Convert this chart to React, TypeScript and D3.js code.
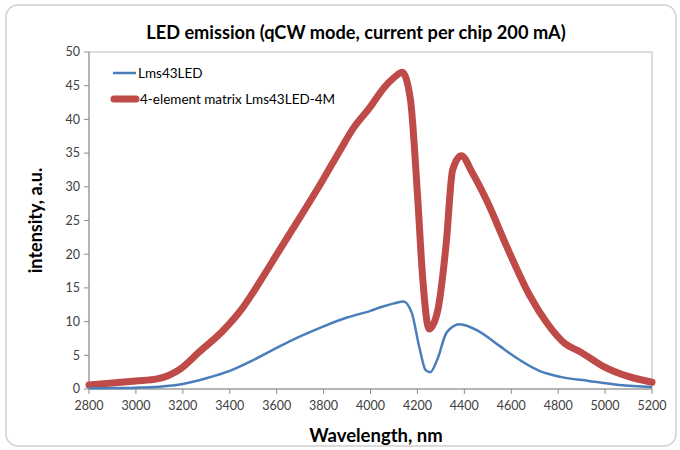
import React from 'react';
import * as d3 from 'd3';

// wavelength (nm) / intensity (a.u.)
const singleWl = [2800, 2900, 3000, 3100, 3200, 3300, 3400, 3500, 3600, 3700, 3800, 3900, 4000, 4050, 4100, 4140, 4175, 4210, 4235, 4255, 4285, 4325, 4380, 4460, 4550, 4610, 4720, 4810, 4930, 5060, 5200];
const singleVal = [0.1, 0.15, 0.2, 0.35, 0.75, 1.6, 2.7, 4.3, 6.1, 7.8, 9.3, 10.6, 11.6, 12.2, 12.7, 13.0, 11.4, 5.9, 2.8, 2.5, 4.4, 8.4, 9.6, 8.6, 6.4, 4.9, 2.7, 1.8, 1.2, 0.6, 0.3];

const matrixWl = [2800, 2900, 3000, 3090, 3190, 3270, 3370, 3450, 3530, 3610, 3700, 3800, 3870, 3925, 4000, 4055, 4100, 4135, 4170, 4200, 4222, 4250, 4285, 4323, 4350, 4387, 4435, 4495, 4580, 4680, 4750, 4830, 4895, 4990, 5095, 5200];
const matrixVal = [0.6, 0.9, 1.2, 1.5, 3.0, 5.5, 8.6, 11.8, 16.0, 20.5, 25.5, 31.2, 35.4, 38.6, 41.9, 44.6, 46.2, 47.0, 43.0, 29.0, 16.7, 8.9, 11.4, 21.7, 32.5, 34.6, 32.0, 28.0, 21.2, 13.8, 9.9, 6.7, 5.5, 3.4, 1.9, 1.0];

const xTicks = d3.range(2800, 5201, 200);
const yTicks = d3.range(0, 51, 5);

const title = 'LED emission (qCW mode, current per chip 200 mA)';
const xLabel = 'Wavelength, nm';
const yLabel = 'intensity, a.u.';
const seriesNames = ['Lms43LED', '4-element matrix Lms43LED-4M'];

const blue = '#4a7ebb';
const red = '#be4b48';
const font = 'Lato, "Open Sans", sans-serif';

export default function App() {
  const W = 680;
  const H = 450;
  const left = 89, right = 652, top = 52, bottom = 389;

  const x = d3.scaleLinear().domain([2800, 5200]).range([left, right]);
  const y = d3.scaleLinear().domain([0, 50]).range([bottom, top]);

  const line = d3
    .line<[number, number]>()
    .x(d => x(d[0]))
    .y(d => y(d[1]))
    .curve(d3.curveMonotoneX);

  const singlePts = singleWl.map((w, i) => [w, singleVal[i]] as [number, number]);
  const matrixPts = matrixWl.map((w, i) => [w, matrixVal[i]] as [number, number]);

  return (
    <svg width={W} height={H} style={{ position: 'absolute', left: 0, top: 0, display: 'block' }} fontFamily={font}>
      <rect x={0} y={0} width={W} height={H} fill="#fff" />
      {/* chart frame */}
      <rect x={6} y={5} width={670} height={441} rx={12} fill="#fff" stroke="#d0d0d0" strokeWidth={1.5} />

      <text x={356} y={39} textAnchor="middle" fontSize={18.2} fontWeight="bold" fill="#000">
        {title}
      </text>

      {/* plot area border */}
      <rect x={left} y={top} width={right - left} height={bottom - top} fill="none" stroke="#bdbdbd" strokeWidth={1} />

      {/* y axis */}
      <line x1={left} x2={left} y1={top} y2={bottom} stroke="#8c8c8c" />
      {yTicks.map(t => (
        <g key={'y' + t}>
          <line x1={left - 5} x2={left} y1={y(t)} y2={y(t)} stroke="#8c8c8c" />
          <text x={left - 9} y={y(t)} dy="0.35em" textAnchor="end" fontSize={12.5} fill="#404040">
            {t}
          </text>
        </g>
      ))}

      {/* x axis */}
      <line x1={left} x2={right} y1={bottom} y2={bottom} stroke="#8c8c8c" />
      {xTicks.map(t => (
        <g key={'x' + t}>
          <line x1={x(t)} x2={x(t)} y1={bottom} y2={bottom + 5} stroke="#8c8c8c" />
          <text x={x(t)} y={bottom + 21} textAnchor="middle" fontSize={12.5} fill="#404040">
            {t}
          </text>
        </g>
      ))}

      <text x={376} y={442} textAnchor="middle" fontSize={18.5} fontWeight="bold" fill="#000">
        {xLabel}
      </text>
      <text transform={`translate(42,${(top + bottom) / 2}) rotate(-90)`} textAnchor="middle" fontSize={18} fontWeight="bold" fill="#000">
        {yLabel}
      </text>

      {/* series */}
      <path d={line(matrixPts) || ''} fill="none" stroke={red} strokeWidth={7} strokeLinejoin="round" strokeLinecap="round" />
      <path d={line(singlePts) || ''} fill="none" stroke={blue} strokeWidth={2.5} strokeLinejoin="round" />

      {/* legend */}
      <line x1={113} x2={136} y1={73} y2={73} stroke={blue} strokeWidth={2.5} />
      <text x={138} y={73} dy="0.35em" fontSize={13.5} fill="#000">{seriesNames[0]}</text>
      <line x1={114} x2={136} y1={99} y2={99} stroke={red} strokeWidth={7} strokeLinecap="round" />
      <text x={140} y={99} dy="0.35em" fontSize={13.5} fill="#000">{seriesNames[1]}</text>
    </svg>
  );
}
